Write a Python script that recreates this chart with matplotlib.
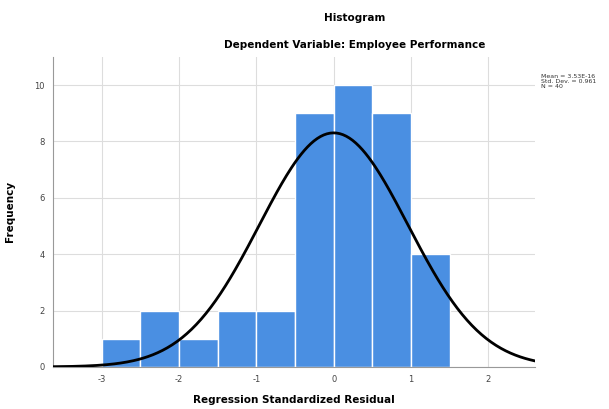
import numpy as np
import matplotlib.pyplot as plt

plt.rcParams['axes.unicode_minus'] = False

# histogram of residuals (bin edges and counts)
bin_edges = [-3.0, -2.5, -2.0, -1.5, -1.0, -0.5, 0.0, 0.5, 1.0, 1.5]
counts = [1, 2, 1, 2, 2, 9, 10, 9, 4]
mean_val = 0.0
std_dev = 0.961
n_obs = 40
stats_lines = ['Mean = 3.53E-16', 'Std. Dev. = 0.961', 'N = 40']

fig = plt.figure(figsize=(6.09, 4.09), dpi=100)
ax = fig.add_axes([0.087, 0.103, 0.791, 0.758])

widths = np.diff(bin_edges)
ax.bar(bin_edges[:-1], counts, width=widths, align='edge',
       color='#4a8fe2', edgecolor='white', linewidth=1.0, zorder=2)

# normal curve scaled to counts
bw = widths[0]
xs = np.linspace(-3.63, 2.6, 300)
ys = n_obs * bw / (std_dev * np.sqrt(2 * np.pi)) * np.exp(-0.5 * ((xs - mean_val) / std_dev) ** 2)
ax.plot(xs, ys, color='black', lw=2, zorder=3)

ax.set_xlim(-3.63, 2.6)
ax.set_ylim(0, 11)
ax.set_xticks([-3, -2, -1, 0, 1, 2])
ax.set_yticks([0, 2, 4, 6, 8, 10])
ax.grid(True, color='#dddddd', lw=0.8, zorder=0)
ax.set_axisbelow(True)
for s in ['top', 'right']:
    ax.spines[s].set_visible(False)
for s in ['left', 'bottom']:
    ax.spines[s].set_color('#999999')
ax.tick_params(labelsize=6, colors='#444444', length=0, pad=6)

ax.set_xlabel('Regression Standardized Residual', fontsize=7.5, fontweight='bold', labelpad=8)
ax.set_ylabel('Frequency', fontsize=7.5, fontweight='bold', labelpad=14)

fig.text(0.583, 0.955, 'Histogram', ha='center', va='center', fontsize=7.5, fontweight='bold')
fig.text(0.583, 0.89, 'Dependent Variable: Employee Performance', ha='center', va='center',
         fontsize=7.5, fontweight='bold')
fig.text(0.889, 0.80, '\n'.join(stats_lines), ha='left', va='center', fontsize=4.5,
         color='#333333', linespacing=1.0)

fig.savefig('out.png', dpi=100)
